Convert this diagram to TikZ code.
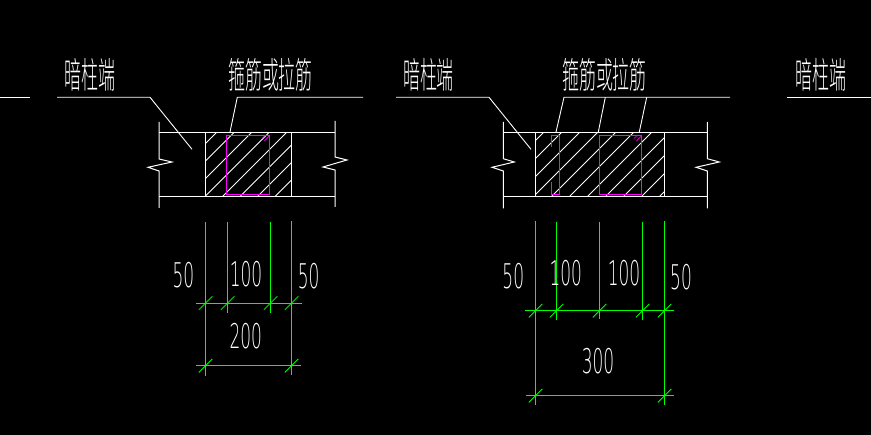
\documentclass[tikz,border=0pt]{standalone}
\usepackage{fontspec}
\newfontfamily\cjk[FakeStretch=0.47]{Noto Sans CJK SC Light}
\newfontfamily\dgt[FakeStretch=0.5]{DejaVu Sans ExtraLight}
\definecolor{cadgreen}{RGB}{0,255,0}
\definecolor{cadmag}{RGB}{255,0,255}
\tikzset{
  wall/.style={draw=white,line width=1pt},
  lead/.style={draw=white,line width=.9pt},
  hatchline/.style={draw=white,line width=.8pt},
  rebar/.style={draw=cadmag,line width=1pt},
  dimline/.style={draw=cadgreen,line width=1pt},
  tick/.style={draw=cadgreen,line width=.8pt},
  cntext/.style={text=white,inner sep=0pt,font=\cjk\fontsize{36}{36}\selectfont},
  numtext/.style={text=white,inner sep=0pt,font=\dgt\fontsize{34}{34}\selectfont}
}
\begin{document}
\begin{tikzpicture}[x=1pt,y=-1pt]
\fill[black] (0,0) rectangle (871,435);
\useasboundingbox (0,0) rectangle (871,435);
% texts
\node[cntext] (t1) at (90,75) {暗柱端};
\node[cntext] (t2) at (270.5,75) {箍筋或拉筋};
\node[cntext] (t3) at (428.5,75) {暗柱端};
\node[cntext] (t4) at (604.5,75) {箍筋或拉筋};
\node[cntext] (t5) at (821,75) {暗柱端};
% hatching
\begin{scope}
\clip (205.3,132.3) rectangle (291.3,197);
\foreach \c in {349,366.5,...,505}
  \draw[hatchline] (\c-120,120) -- (\c-210,210);
\end{scope}
\begin{scope}
\clip (535.3,132.3) rectangle (664.3,197);
\foreach \c in {676,694,...,870}
  \draw[hatchline] (\c-120,120) -- (\c-210,210);
\end{scope}
% leaders left
\coordinate (a0) at (0,97.3); \coordinate (a1) at (30,97.3);
\draw[lead] (a0) -- (a1);
\coordinate (b0) at (57,97.3); \coordinate (b1) at (150,97.3); \coordinate (b2) at (192,149.3);
\draw[lead] (b0) -- (b1) -- (b2);
\coordinate (c0) at (363,97.3); \coordinate (c1) at (237.3,97.3); \coordinate (c2) at (230,132);
\draw[lead] (c0) -- (c1) -- (c2);
% leaders right
\coordinate (d0) at (396,97.3); \coordinate (d1) at (489,97.3); \coordinate (d2) at (531,149.3);
\draw[lead] (d0) -- (d1) -- (d2);
\coordinate (e0) at (730,97.3); \coordinate (e1) at (564,97.3); \coordinate (e2) at (556,132);
\draw[lead] (e0) -- (e1) -- (e2);
\coordinate (f1) at (605.3,97.3); \coordinate (f2) at (598.3,132);
\draw[lead] (f1) -- (f2);
\coordinate (g1) at (646.7,97.3); \coordinate (g2) at (639.3,132);
\draw[lead] (g1) -- (g2);
\coordinate (h0) at (787,97.3); \coordinate (h1) at (871,97.3);
\draw[lead] (h0) -- (h1);
% walls left
\draw[wall] (159,132.3) -- (335,132.3);
\draw[wall] (159,197) -- (335,197);
\draw[wall] (159,122) -- (159,159) -- (172,162) -- (148,167.3) -- (159,171) -- (159,208);
\draw[wall] (335,121) -- (335,157) -- (347,160) -- (323,167) -- (335,170) -- (335,207);
\draw[wall] (205.3,132.3) -- (205.3,197);
\draw[wall] (291.3,132.3) -- (291.3,197);
% walls right
\draw[wall] (503.3,132.3) -- (707.3,132.3);
\draw[wall] (503.3,197) -- (707.3,197);
\draw[wall] (503.3,122) -- (503.3,158.7) -- (514.3,162) -- (492,167.3) -- (503.3,171) -- (503.3,208.3);
\draw[wall] (707.3,122) -- (707.3,158.7) -- (719.3,162) -- (696,167.3) -- (707.3,171) -- (707.3,208.3);
\draw[wall] (535.3,132.3) -- (535.3,197);
\draw[wall] (664.3,132.3) -- (664.3,197);
% rebars
\draw[rebar] (226.3,135.3) rectangle (269.3,194.7);
\draw[rebar,line width=.7pt] (264.5,141) -- (269.3,136);
\draw[rebar,line width=.7pt] (262,138.5) -- (265,135.5);
\draw[rebar] (551.3,147) -- (551.3,135.3) -- (559.3,135.3) -- (559.3,194.7) -- (551.3,194.7) -- (551.3,181.7);
\draw[rebar] (599.3,135.3) rectangle (641.3,194.7);
\draw[rebar,line width=.7pt] (636.5,141) -- (641.3,136);
\draw[rebar,line width=.7pt] (634,138.5) -- (637,135.5);
% left dims
\draw[dimline] (205.3,222) -- (205.3,375.7);
\draw[dimline] (227.3,222) -- (227.3,312.7);
\draw[dimline] (270.3,222) -- (270.3,313);
\draw[dimline] (291.3,221) -- (291.3,375);
\draw[dimline] (196,303.3) -- (301.7,303.3);
\draw[dimline] (196,366) -- (300.7,366);
\foreach \x in {205.3,227.3,270.3,291.3}
  \draw[tick] (\x-6.5,303.3+6.5) -- (\x+7,303.3-7);
\foreach \x in {205.3,291.3}
  \draw[tick] (\x-6.5,366+6.5) -- (\x+7,366-7);
% right dims
\draw[dimline] (535.3,221) -- (535.3,405);
\draw[dimline] (556.3,222) -- (556.3,320.3);
\draw[dimline] (599.3,222) -- (599.3,319);
\draw[dimline] (642.3,222) -- (642.3,320);
\draw[dimline] (664.3,221.5) -- (664.3,405);
\draw[dimline] (525,311) -- (673.7,311);
\draw[dimline] (526,396) -- (673.7,396);
\foreach \x in {535.3,556.3,599.3,642.3,664.3}
  \draw[tick] (\x-6.5,311+6.5) -- (\x+7,311-7);
\foreach \x in {535.3,664.3}
  \draw[tick] (\x-6.5,396+6.5) -- (\x+7,396-7);
% numbers
\node[numtext] (n1) at (183.5,275) {50};
\node[numtext] (n2) at (246,274) {100};
\node[numtext] (n3) at (308.7,276) {50};
\node[numtext] (n4) at (245.8,336) {200};
\node[numtext] (n5) at (513.3,276) {50};
\node[numtext] (n6) at (565.8,273.3) {100};
\node[numtext] (n7) at (624,273.3) {100};
\node[numtext] (n8) at (681,277.5) {50};
\node[numtext] (n9) at (598,361) {300};
\end{tikzpicture}
\end{document}
